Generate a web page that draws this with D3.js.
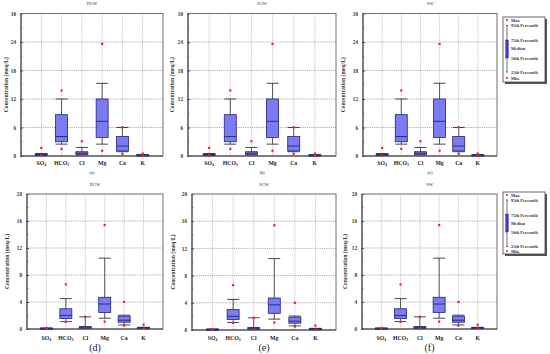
<!DOCTYPE html>
<html><head><meta charset="utf-8">
<script src="https://cdn.jsdelivr.net/npm/d3@7"></script>
<style>body{margin:0;background:#fff}svg{display:block}</style>
</head><body>
<svg id="c" width="550" height="354"></svg>
<script>
const categories = ["SO4", "HCO3", "Cl", "Mg", "Ca", "K"];
const catLabels = [["SO","4"], ["HCO","3"], ["Cl",""], ["Mg",""], ["Ca",""], ["K",""]];
// stats per category: [min, p5, q1, median, q3, p95, max]
const topStats = [
  [0.1, 0.15, 0.2, 0.35, 0.45, 0.5, 1.7],
  [1.5, 2.5, 3.0, 4.1, 8.7, 12.0, 13.8],
  [0.15, 0.25, 0.35, 0.6, 0.9, 1.8, 3.1],
  [1.1, 2.5, 3.9, 7.3, 12.0, 15.3, 23.6],
  [0.45, 0.9, 1.05, 2.1, 4.1, 6.0, 6.05],
  [0.05, 0.08, 0.1, 0.2, 0.25, 0.3, 0.5]
];
const bottomStats = [
  [0.02, 0.04, 0.05, 0.1, 0.12, 0.15, 0.15],
  [1.05, 1.1, 1.55, 2.0, 3.0, 4.5, 6.6],
  [0.05, 0.1, 0.2, 0.3, 0.35, 1.8, 1.8],
  [1.1, 1.6, 2.45, 3.7, 4.7, 10.5, 15.4],
  [0.5, 0.6, 1.0, 1.3, 1.9, 2.05, 4.0],
  [0.05, 0.08, 0.1, 0.18, 0.22, 0.25, 0.65]
];
const topTicks = [0, 6, 12, 18, 24, 30];
const bottomTicks = [0, 4, 8, 12, 16, 20];
const sites = ["DGW", "SGW", "SW"];
const captions = ["(a)", "(b)", "(c)", "(d)", "(e)", "(f)"];
const legendLabels = ["Max.", "95th Percentile", "75th Percentile", "Median", "50th Percentile", "25th Percentile", "Min."];
const yTitle = "Concentration (meq/L)";

const svg = d3.select("#c");
const serif = "'Liberation Serif','DejaVu Serif',serif";
const boxFill = "#7b7bf2", boxStroke = "#23237a", dotCol = "#e8262c";

const panels = [
  {x0:21, x1:163, y0:13.5, y1:156, stats:topStats, ticks:topTicks, max:30, title:sites[0], titleY:5, cap:captions[0], capY:174, capSize:4.5, tickX:16, labX:6, xlabY:165},
  {x0:188, x1:336, y0:13.5, y1:156, stats:topStats, ticks:topTicks, max:30, title:sites[1], titleY:5, cap:captions[1], capY:174, capSize:4.5, tickX:183, labX:172, xlabY:165},
  {x0:363, x1:497, y0:13.5, y1:156, stats:topStats, ticks:topTicks, max:30, title:sites[2], titleY:5, cap:captions[2], capY:174, capSize:4.5, tickX:358, labX:343, xlabY:165},
  {x0:27, x1:163, y0:194, y1:329, stats:bottomStats, ticks:bottomTicks, max:20, title:sites[0], titleY:186, cap:captions[3], capY:351, capSize:10, tickX:22, labX:7, xlabY:340},
  {x0:192, x1:336, y0:194, y1:330, stats:bottomStats, ticks:bottomTicks, max:20, title:sites[1], titleY:186, cap:captions[4], capY:351, capSize:10, tickX:187, labX:173, xlabY:340},
  {x0:362, x1:497, y0:194, y1:329, stats:bottomStats, ticks:bottomTicks, max:20, title:sites[2], titleY:186, cap:captions[5], capY:351, capSize:10, tickX:357, labX:345, xlabY:340}
];

panels.forEach(p => {
  const g = svg.append("g");
  const x = d3.scalePoint().domain(categories).range([p.x0, p.x1]).padding(1);
  const y = d3.scaleLinear().domain([0, p.max]).range([p.y1, p.y0]);
  // grid
  g.selectAll(".hg").data(p.ticks.slice(1, -1)).join("line")
    .attr("x1", p.x0).attr("x2", p.x1).attr("y1", d => y(d)).attr("y2", d => y(d))
    .attr("stroke", "#8a8a8a").attr("stroke-width", 0.7).attr("stroke-dasharray", "1.2,1");
  g.selectAll(".vg").data(categories).join("line")
    .attr("x1", d => x(d)).attr("x2", d => x(d)).attr("y1", p.y0).attr("y2", p.y1)
    .attr("stroke", "#9a9a9a").attr("stroke-width", 0.7).attr("stroke-dasharray", "1,1.2");
  // y axis
  const ax = d3.axisLeft(y).tickValues(p.ticks).tickSize(3).tickSizeOuter(0);
  const ag = g.append("g").attr("transform", `translate(${p.x0},0)`).call(ax);
  ag.select(".domain").remove();
  ag.selectAll(".tick line").attr("stroke", "#444").attr("x2", 2).attr("x1", -1);
  ag.selectAll(".tick text").attr("x", p.tickX - p.x0).attr("font-family", serif).attr("font-size", 5.2).attr("font-weight", "bold").attr("fill", "#333");
  // minor ticks
  const minors = d3.range(0, p.ticks.length - 1).map(i => (p.ticks[i] + p.ticks[i+1]) / 2);
  g.selectAll(".mt").data(minors).join("line")
    .attr("x1", p.x0).attr("x2", p.x0 + 1.5).attr("y1", d => y(d)).attr("y2", d => y(d))
    .attr("stroke", "#555").attr("stroke-width", 0.6);
  // frame
  g.append("rect").attr("x", p.x0).attr("y", p.y0).attr("width", p.x1 - p.x0).attr("height", p.y1 - p.y0)
    .attr("fill", "none").attr("stroke", "#7a7a7a").attr("stroke-width", 1.1);
  g.append("line").attr("x1", p.x0).attr("x2", p.x0).attr("y1", p.y0).attr("y2", p.y1).attr("stroke", "#444").attr("stroke-width", 1);
  g.append("line").attr("x1", p.x0).attr("x2", p.x1).attr("y1", p.y1).attr("y2", p.y1).attr("stroke", "#444").attr("stroke-width", 1);
  // boxes
  const bw = 12, cw = 12;
  categories.forEach((c, i) => {
    const s = p.stats[i];
    const cx = x(c);
    // whiskers
    g.append("line").attr("x1", cx).attr("x2", cx).attr("y1", y(s[5])).attr("y2", y(s[4])).attr("stroke", "#333").attr("stroke-width", 0.8);
    g.append("line").attr("x1", cx).attr("x2", cx).attr("y1", y(s[2])).attr("y2", y(s[1])).attr("stroke", "#333").attr("stroke-width", 0.8);
    [s[1], s[5]].forEach(v => g.append("line").attr("x1", cx - cw/2).attr("x2", cx + cw/2).attr("y1", y(v)).attr("y2", y(v)).attr("stroke", "#333").attr("stroke-width", 0.9));
    const bh = Math.max(y(s[2]) - y(s[4]), 1.2);
    g.append("rect").attr("x", cx - bw/2).attr("y", y(s[4])).attr("width", bw).attr("height", bh)
      .attr("fill", boxFill).attr("stroke", boxStroke).attr("stroke-width", 0.8);
    g.append("line").attr("x1", cx - bw/2).attr("x2", cx + bw/2).attr("y1", y(s[3])).attr("y2", y(s[3])).attr("stroke", boxStroke).attr("stroke-width", 0.9);
    [s[0], s[6]].forEach(v => g.append("rect").attr("x", cx - 1.1).attr("y", y(v) - 1.1).attr("width", 2.2).attr("height", 2.2).attr("fill", dotCol));
  });
  // x labels
  catLabels.forEach((l, i) => {
    const t = g.append("text").attr("x", x(categories[i])).attr("y", p.xlabY).attr("text-anchor", "middle")
      .attr("font-family", serif).attr("font-size", 5.8).attr("font-weight", "bold").attr("fill", "#222");
    t.append("tspan").text(l[0]);
    if (l[1]) t.append("tspan").attr("font-size", 3.8).attr("dy", 1).text(l[1]);
  });
  // title
  g.append("text").attr("x", (p.x0 + p.x1) / 2).attr("y", p.titleY).attr("text-anchor", "middle")
    .attr("font-family", serif).attr("font-size", 4.5).attr("fill", "#333").text(p.title);
  // caption
  g.append("text").attr("x", (p.x0 + p.x1) / 2).attr("y", p.capY).attr("text-anchor", "middle")
    .attr("font-family", serif).attr("font-size", p.capSize).attr("fill", "#222").text(p.cap);
  // y title
  g.append("text").attr("transform", `translate(${p.labX},${(p.y0 + p.y1) / 2}) rotate(-90)`)
    .attr("text-anchor", "middle").attr("dy", "0.35em")
    .attr("font-family", serif).attr("font-size", 5.6).attr("font-weight", "bold").attr("fill", "#333").text(yTitle);
});

// legends
const legends = [{x:503, y:17, h:65, ys:[20, 25.5, 40, 48.5, 58, 72, 78], box:[40, 58]},
                 {x:503, y:192, h:62, ys:[195, 200, 215, 223.5, 232, 246.5, 251], box:[214, 232]}];
legends.forEach(L => {
  const g = svg.append("g");
  g.append("rect").attr("x", L.x + 2).attr("y", L.y + 2).attr("width", 42).attr("height", L.h).attr("fill", "#555");
  g.append("rect").attr("x", L.x).attr("y", L.y).attr("width", 42).attr("height", L.h).attr("fill", "#fff").attr("stroke", "#444").attr("stroke-width", 0.8);
  const lx = L.x + 4;
  g.append("line").attr("x1", lx).attr("x2", lx).attr("y1", L.ys[1]).attr("y2", L.ys[5]).attr("stroke", "#333").attr("stroke-width", 0.7);
  [L.ys[1], L.ys[5]].forEach(v => g.append("line").attr("x1", lx - 1).attr("x2", lx + 1).attr("y1", v).attr("y2", v).attr("stroke", "#333").attr("stroke-width", 0.7));
  g.append("rect").attr("x", lx - 1.3).attr("y", L.box[0]).attr("width", 2.6).attr("height", L.box[1] - L.box[0]).attr("fill", "#3a3ad8").attr("stroke", boxStroke).attr("stroke-width", 0.4);
  [L.ys[0], L.ys[6]].forEach(v => g.append("rect").attr("x", lx - 0.9).attr("y", v - 0.9).attr("width", 1.8).attr("height", 1.8).attr("fill", dotCol));
  legendLabels.forEach((t, i) => g.append("text").attr("x", L.x + 8).attr("y", L.ys[i]).attr("dy", "0.35em")
    .attr("font-family", serif).attr("font-size", 4.3).attr("font-weight", "bold").attr("fill", "#333").text(t));
});
</script>
</body></html>
